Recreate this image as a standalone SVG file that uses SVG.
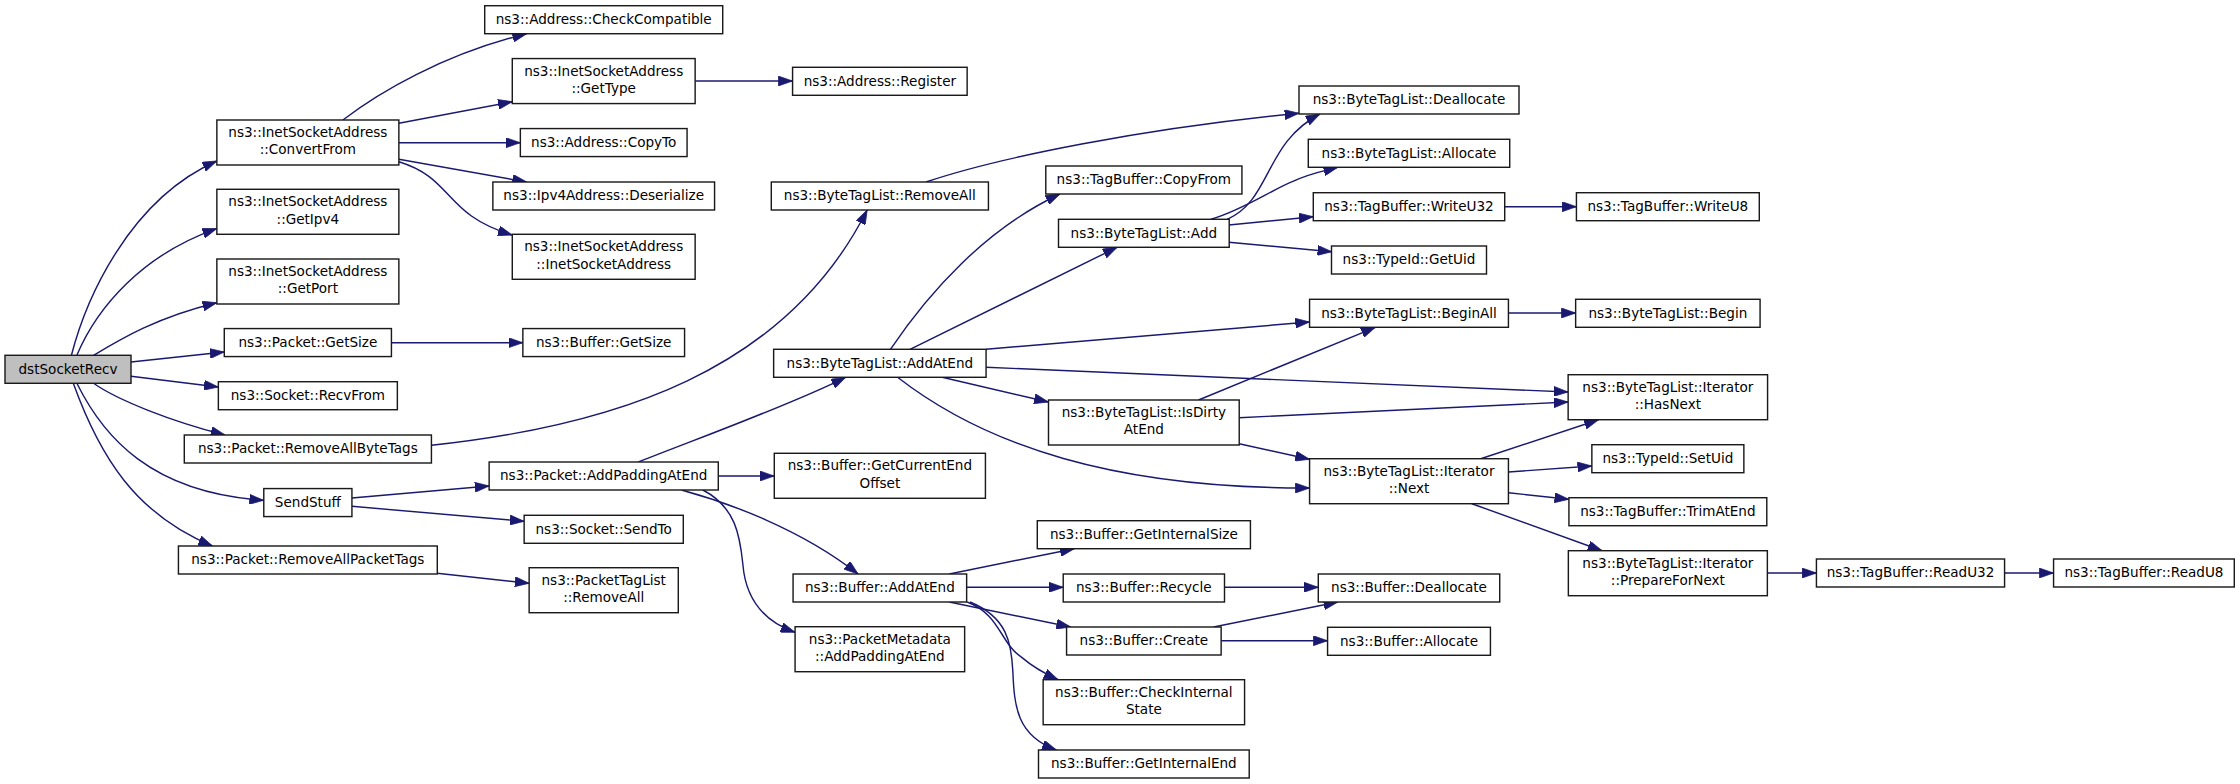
<svg xmlns="http://www.w3.org/2000/svg" width="2240" height="784" viewBox="0 0 2240 784">
<style>
.n rect{fill:#fff;stroke:#1a1a1a;stroke-width:1}
.n.root rect{fill:#bfbfbf}
.n text{font-family:'DejaVu Sans','Noto Sans',sans-serif;font-size:9.5px;text-anchor:middle;fill:#000}
.e path{fill:none;stroke:#191970;stroke-width:1;marker-end:url(#a)}
</style>
<defs>
<marker id="a" viewBox="0 0 10 7" refX="10" refY="3.5" markerWidth="10" markerHeight="7" markerUnits="userSpaceOnUse" orient="auto">
<path d="M0,0 L10,3.5 L0,7 z" fill="#191970" stroke="#191970" stroke-width="0.5"/>
</marker>
</defs>
<rect width="2240" height="784" fill="#fff"/>
<g transform="scale(1.4285714)">
<g id="edges" class="e">
<path d="M50,248.7 C60,210 90,140 151.8,112.7"/>
<path d="M53.8,248.7 C68,215 100,178 151.8,160"/>
<path d="M65.5,248.7 C85,237 110,222 151.8,211.9"/>
<path d="M91.7,253.4 L157,246.4"/>
<path d="M91.7,263.4 L152.8,270.9"/>
<path d="M65.5,268.3 C82,280 120,295 157.5,304.5"/>
<path d="M53.8,268.3 C72,305 105,345 184.6,350.2"/>
<path d="M51.3,268.3 C70,320 95,360 148.8,382.2"/>
<path d="M240,84 C265,65 310,38 368.7,23.6"/>
<path d="M279.2,86.3 L358.6,71.2"/>
<path d="M279.2,99.9 L364.2,99.9"/>
<path d="M279.2,111.5 L368.7,127.4"/>
<path d="M279.2,113.2 C318,125 310,150 358.6,164.5"/>
<path d="M486.6,56.7 L554.8,56.7"/>
<path d="M274,239.9 L366,239.9"/>
<path d="M302,311.7 C430,298 550,260 607,147"/>
<path d="M648.2,127.4 C700,110 800,90 909.3,79.3"/>
<path d="M246.3,348.6 L342.4,340.2"/>
<path d="M246.3,354.4 L366.9,364.9"/>
<path d="M306,401.3 L370.4,408.3"/>
<path d="M447,323.4 C480,310 550,285 592,264.1"/>
<path d="M502.8,333.2 L542,333.2"/>
<path d="M477,343 C510,352 560,370 600.7,401.8"/>
<path d="M492,343 C515,355 518,375 520,395 C522,420 535,435 556.5,442.6"/>
<path d="M623.3,244.5 C650,205 690,160 742,135.8"/>
<path d="M637,244.5 L782,173.1"/>
<path d="M690.2,244.5 L916.7,225.4"/>
<path d="M690.2,257.1 L1097.7,274.4"/>
<path d="M659.5,264.1 L733.9,281.4"/>
<path d="M628.3,264.1 C690,312 780,342 916.7,341.6"/>
<path d="M859,153.5 C890,140 885,100 924,79.8"/>
<path d="M847.7,153.5 C870,147 890,133 905,127 C915,122 925,120 936.5,117.1"/>
<path d="M860.2,157.5 L919.3,151.7"/>
<path d="M860.2,169.6 L932.3,176.2"/>
<path d="M1053.3,144.7 L1103.5,144.7"/>
<path d="M1055.9,219.1 L1103,219.1"/>
<path d="M839,280 L962.8,229.1"/>
<path d="M867.4,292.4 L1097.7,281.4"/>
<path d="M867.4,310.6 L916.7,321.5"/>
<path d="M1036.5,321.1 L1119,293.8"/>
<path d="M1055.9,330.4 L1114.3,326.2"/>
<path d="M1055.9,344.9 L1098.2,349.5"/>
<path d="M1030.3,352.6 L1121.5,385.5"/>
<path d="M1237.1,401.1 L1271.5,401.1"/>
<path d="M1403.2,401.1 L1437.5,401.1"/>
<path d="M664.5,401.8 L752,384.1"/>
<path d="M676.6,411.1 L744.3,411.1"/>
<path d="M664.5,421.4 L749.5,438.9"/>
<path d="M677,421.4 C700,430 700,450 715,460 C722,466 730,471 740.7,475.8"/>
<path d="M679,421.4 C705,432 708,450 709,470 C710,495 712,515 739.5,525"/>
<path d="M857.1,411.1 L922.8,411.1"/>
<path d="M849.5,438.9 L936.5,421.4"/>
<path d="M854.8,448.5 L929.3,448.5"/>
</g>
<g id="n_dst" class="n root"><rect x="3.5" y="248.7" width="88.2" height="19.6"/><text x="47.6" y="261.5">dstSocketRecv</text></g>
<g id="n_conv" class="n"><rect x="151.8" y="84" width="127.4" height="31.5"/><text x="215.5" y="96">ns3::InetSocketAddress</text><text x="215.5" y="108">::ConvertFrom</text></g>
<g id="n_ipv4" class="n"><rect x="151.8" y="132.5" width="127.4" height="31.5"/><text x="215.5" y="144.5">ns3::InetSocketAddress</text><text x="215.5" y="156.5">::GetIpv4</text></g>
<g id="n_port" class="n"><rect x="151.8" y="181.3" width="127.4" height="31.5"/><text x="215.5" y="193.3">ns3::InetSocketAddress</text><text x="215.5" y="205.3">::GetPort</text></g>
<g id="n_pgs" class="n"><rect x="157" y="230" width="117" height="19.6"/><text x="215.5" y="242.8">ns3::Packet::GetSize</text></g>
<g id="n_recv" class="n"><rect x="152.85" y="267.2" width="125.3" height="19.6"/><text x="215.5" y="280">ns3::Socket::RecvFrom</text></g>
<g id="n_rabt" class="n"><rect x="129" y="304.5" width="173" height="19.6"/><text x="215.5" y="317.3">ns3::Packet::RemoveAllByteTags</text></g>
<g id="n_send" class="n"><rect x="184.65" y="342" width="61.7" height="19.6"/><text x="215.5" y="354.8">SendStuff</text></g>
<g id="n_rapt" class="n"><rect x="124.9" y="382.2" width="181.2" height="19.6"/><text x="215.5" y="395">ns3::Packet::RemoveAllPacketTags</text></g>
<g id="n_chk" class="n"><rect x="339.3" y="4" width="166.6" height="19.6"/><text x="422.6" y="16.8">ns3::Address::CheckCompatible</text></g>
<g id="n_gtype" class="n"><rect x="358.6" y="41" width="128" height="31.5"/><text x="422.6" y="53">ns3::InetSocketAddress</text><text x="422.6" y="65">::GetType</text></g>
<g id="n_copyto" class="n"><rect x="364.25" y="90" width="116.7" height="19.6"/><text x="422.6" y="102.8">ns3::Address::CopyTo</text></g>
<g id="n_deser" class="n"><rect x="345" y="127.4" width="155.2" height="19.6"/><text x="422.6" y="140.2">ns3::Ipv4Address::Deserialize</text></g>
<g id="n_isa" class="n"><rect x="358.6" y="164" width="128" height="31.5"/><text x="422.6" y="176">ns3::InetSocketAddress</text><text x="422.6" y="188">::InetSocketAddress</text></g>
<g id="n_bgs" class="n"><rect x="366" y="230" width="113.2" height="19.6"/><text x="422.6" y="242.8">ns3::Buffer::GetSize</text></g>
<g id="n_apae" class="n"><rect x="342.4" y="323.4" width="160.4" height="19.6"/><text x="422.6" y="336.2">ns3::Packet::AddPaddingAtEnd</text></g>
<g id="n_sendto" class="n"><rect x="366.9" y="360.7" width="111.4" height="19.6"/><text x="422.6" y="373.5">ns3::Socket::SendTo</text></g>
<g id="n_ptl" class="n"><rect x="370.4" y="397.4" width="104.4" height="31.5"/><text x="422.6" y="409.4">ns3::PacketTagList</text><text x="422.6" y="421.4">::RemoveAll</text></g>
<g id="n_reg" class="n"><rect x="554.8" y="47.1" width="122.2" height="19.6"/><text x="615.9" y="59.9">ns3::Address::Register</text></g>
<g id="n_btlra" class="n"><rect x="539.9" y="127.4" width="152" height="19.6"/><text x="615.9" y="140.2">ns3::ByteTagList::RemoveAll</text></g>
<g id="n_btlae" class="n"><rect x="541.55" y="244.5" width="148.7" height="19.6"/><text x="615.9" y="257.3">ns3::ByteTagList::AddAtEnd</text></g>
<g id="n_gceo" class="n"><rect x="542" y="317.3" width="147.8" height="31.5"/><text x="615.9" y="329.3">ns3::Buffer::GetCurrentEnd</text><text x="615.9" y="341.3">Offset</text></g>
<g id="n_bae" class="n"><rect x="555.15" y="401.8" width="121.5" height="19.6"/><text x="615.9" y="414.6">ns3::Buffer::AddAtEnd</text></g>
<g id="n_pmd" class="n"><rect x="556.55" y="438.7" width="118.7" height="31.5"/><text x="615.9" y="450.7">ns3::PacketMetadata</text><text x="615.9" y="462.7">::AddPaddingAtEnd</text></g>
<g id="n_cpf" class="n"><rect x="732.05" y="116.2" width="137.3" height="19.6"/><text x="800.7" y="129">ns3::TagBuffer::CopyFrom</text></g>
<g id="n_add" class="n"><rect x="740.95" y="153.5" width="119.5" height="19.6"/><text x="800.7" y="166.3">ns3::ByteTagList::Add</text></g>
<g id="n_dirty" class="n"><rect x="733.95" y="280" width="133.5" height="31.5"/><text x="800.7" y="292">ns3::ByteTagList::IsDirty</text><text x="800.7" y="304">AtEnd</text></g>
<g id="n_gis" class="n"><rect x="726.1" y="364.5" width="149.2" height="19.6"/><text x="800.7" y="377.3">ns3::Buffer::GetInternalSize</text></g>
<g id="n_rec" class="n"><rect x="744.25" y="401.8" width="112.9" height="19.6"/><text x="800.7" y="414.6">ns3::Buffer::Recycle</text></g>
<g id="n_create" class="n"><rect x="746.6" y="438.9" width="108.2" height="19.6"/><text x="800.7" y="451.7">ns3::Buffer::Create</text></g>
<g id="n_cis" class="n"><rect x="730.2" y="475.8" width="141" height="31.5"/><text x="800.7" y="487.8">ns3::Buffer::CheckInternal</text><text x="800.7" y="499.8">State</text></g>
<g id="n_gie" class="n"><rect x="726.95" y="525" width="147.5" height="19.6"/><text x="800.7" y="537.8">ns3::Buffer::GetInternalEnd</text></g>
<g id="n_dealloc" class="n"><rect x="909.3" y="60.2" width="154" height="19.6"/><text x="986.3" y="73">ns3::ByteTagList::Deallocate</text></g>
<g id="n_alloc" class="n"><rect x="915.8" y="97.5" width="141" height="19.6"/><text x="986.3" y="110.3">ns3::ByteTagList::Allocate</text></g>
<g id="n_w32" class="n"><rect x="919.3" y="134.9" width="134" height="19.6"/><text x="986.3" y="147.7">ns3::TagBuffer::WriteU32</text></g>
<g id="n_guid" class="n"><rect x="932.05" y="172.2" width="108.5" height="19.6"/><text x="986.3" y="185">ns3::TypeId::GetUid</text></g>
<g id="n_begall" class="n"><rect x="916.7" y="209.5" width="139.2" height="19.6"/><text x="986.3" y="222.3">ns3::ByteTagList::BeginAll</text></g>
<g id="n_next" class="n"><rect x="916.7" y="321.1" width="139.2" height="31.5"/><text x="986.3" y="333.1">ns3::ByteTagList::Iterator</text><text x="986.3" y="345.1">::Next</text></g>
<g id="n_bdeal" class="n"><rect x="922.8" y="401.8" width="127" height="19.6"/><text x="986.3" y="414.6">ns3::Buffer::Deallocate</text></g>
<g id="n_balloc" class="n"><rect x="929.3" y="439.1" width="114" height="19.6"/><text x="986.3" y="451.9">ns3::Buffer::Allocate</text></g>
<g id="n_w8" class="n"><rect x="1103.5" y="134.9" width="128" height="19.6"/><text x="1167.5" y="147.7">ns3::TagBuffer::WriteU8</text></g>
<g id="n_begin" class="n"><rect x="1102.95" y="209.5" width="129.1" height="19.6"/><text x="1167.5" y="222.3">ns3::ByteTagList::Begin</text></g>
<g id="n_hasnext" class="n"><rect x="1097.7" y="262.3" width="139.6" height="31.5"/><text x="1167.5" y="274.3">ns3::ByteTagList::Iterator</text><text x="1167.5" y="286.3">::HasNext</text></g>
<g id="n_setuid" class="n"><rect x="1114.3" y="311.3" width="106.4" height="19.6"/><text x="1167.5" y="324.1">ns3::TypeId::SetUid</text></g>
<g id="n_trim" class="n"><rect x="1098.25" y="348.4" width="138.5" height="19.6"/><text x="1167.5" y="361.2">ns3::TagBuffer::TrimAtEnd</text></g>
<g id="n_prep" class="n"><rect x="1097.85" y="385.5" width="139.3" height="31.5"/><text x="1167.5" y="397.5">ns3::ByteTagList::Iterator</text><text x="1167.5" y="409.5">::PrepareForNext</text></g>
<g id="n_r32" class="n"><rect x="1271.5" y="391.3" width="131.7" height="19.6"/><text x="1337.35" y="404.1">ns3::TagBuffer::ReadU32</text></g>
<g id="n_r8" class="n"><rect x="1437.5" y="391.3" width="126.5" height="19.6"/><text x="1500.75" y="404.1">ns3::TagBuffer::ReadU8</text></g>
</g>
</svg>
